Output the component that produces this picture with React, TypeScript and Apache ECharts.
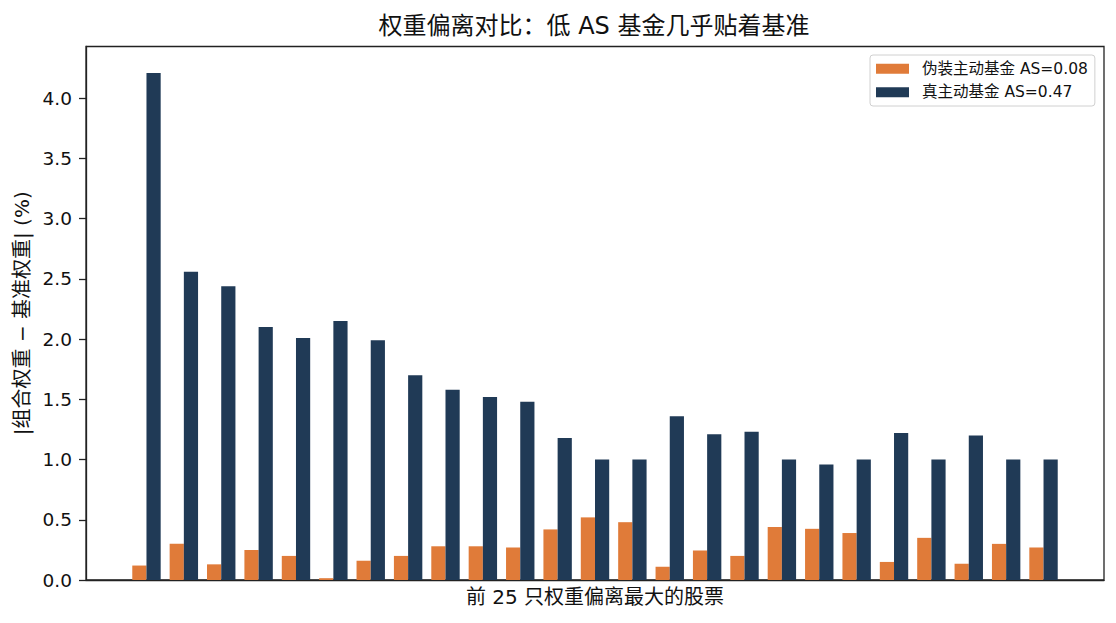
import React, { useEffect, useRef } from "react";
import * as echarts from "echarts";

const titleText = "权重偏离对比：低 AS 基金几乎贴着基准";
const xAxisName = "前 25 只权重偏离最大的股票";
const yAxisName = "|组合权重 − 基准权重| (%)";
const seriesNames = ["伪装主动基金 AS=0.08", "真主动基金 AS=0.47"];
const stockIndex = [0, 1, 2, 3, 4, 5, 6, 7, 8, 9, 10, 11, 12, 13, 14, 15, 16, 17, 18, 19, 20, 21, 22, 23, 24];
const fakeActive = [0.12, 0.30, 0.13, 0.25, 0.20, 0.015, 0.16, 0.20, 0.28, 0.28, 0.27, 0.42, 0.52, 0.48, 0.11, 0.245, 0.20, 0.44, 0.425, 0.39, 0.15, 0.35, 0.135, 0.30, 0.27];
const trueActive = [4.21, 2.56, 2.44, 2.10, 2.01, 2.15, 1.99, 1.70, 1.58, 1.52, 1.48, 1.18, 1.00, 1.00, 1.36, 1.21, 1.23, 1.00, 0.96, 1.00, 1.22, 1.00, 1.20, 1.00, 1.00];

const FONT = "'DejaVu Sans', 'Noto Sans CJK SC', sans-serif";
const ORANGE = "#E07B39";
const NAVY = "#203A56";
const TEXT = "#111111";

export default function App() {
  const ref = useRef<HTMLDivElement>(null);
  useEffect(() => {
    if (!ref.current) return;
    const chart = echarts.init(ref.current, undefined, { renderer: "svg" });
    const W = 1116;
    const gridLeft = 86;
    const gridRight = 12;
    const xMin = -1.618;
    const xMax = 25.618;
    const pxPerUnit = (W - gridLeft - gridRight) / (xMax - xMin);
    const barW = 0.38 * pxPerUnit;
    chart.setOption({
      animation: false,
      textStyle: { fontFamily: FONT, color: TEXT },
      title: {
        text: titleText,
        left: 589,
        top: 9,
        textAlign: "center",
        textStyle: { fontFamily: FONT, fontSize: 24, fontWeight: "normal", color: TEXT },
      },
      legend: {
        orient: "vertical",
        left: 870,
        top: 55,
        padding: [6, 7, 6, 6],
        itemWidth: 33,
        itemHeight: 10,
        itemGap: 8,
        icon: "rect",
        backgroundColor: "#ffffff",
        borderColor: "#d0d0d0",
        borderWidth: 1,
        borderRadius: 3,
        data: seriesNames,
        textStyle: { fontFamily: FONT, fontSize: 15.5, color: TEXT, padding: [0, 0, 0, 8] },
      },
      grid: {
        left: gridLeft,
        right: gridRight,
        top: 46.5,
        bottom: 43,
        show: true,
        borderColor: "#222222",
        borderWidth: 1.3,
        backgroundColor: "transparent",
      },
      xAxis: {
        type: "value",
        min: xMin,
        max: xMax,
        name: xAxisName,
        nameLocation: "middle",
        nameGap: 7,
        nameTextStyle: { fontFamily: FONT, fontSize: 20, color: TEXT, verticalAlign: "top" },
        axisLine: { show: true, lineStyle: { color: "#222222", width: 1.3 } },
        axisTick: { show: false },
        axisLabel: { show: false },
        splitLine: { show: false },
      },
      yAxis: {
        type: "value",
        min: 0,
        max: 4.43,
        interval: 0.5,
        name: yAxisName,
        nameLocation: "middle",
        nameGap: 35,
        nameTextStyle: { fontFamily: FONT, fontSize: 20, color: TEXT },
        axisLine: { show: true, onZero: false, lineStyle: { color: "#222222", width: 1.3 } },
        axisTick: { show: true, inside: false, length: 7, lineStyle: { color: "#222222", width: 1.3 } },
        axisLabel: {
          margin: 14,
          fontFamily: FONT,
          fontSize: 18.5,
          color: TEXT,
          showMaxLabel: false,
          formatter: (v: number) => (v > 4.2 ? "" : v.toFixed(1)),
        },
        splitLine: { show: false },
      },
      series: [
        {
          name: seriesNames[0],
          type: "bar",
          barWidth: barW,
          barGap: "0%",
          itemStyle: { color: ORANGE },
          data: stockIndex.map((i) => [i, fakeActive[i]]),
        },
        {
          name: seriesNames[1],
          type: "bar",
          barWidth: barW,
          barGap: "0%",
          itemStyle: { color: NAVY },
          data: stockIndex.map((i) => [i, trueActive[i]]),
        },
      ],
    });
    return () => chart.dispose();
  }, []);
  return (
    <div
      ref={ref}
      style={{ position: "fixed", left: 0, top: 0, width: 1116, height: 623, background: "#ffffff" }}
    />
  );
}
